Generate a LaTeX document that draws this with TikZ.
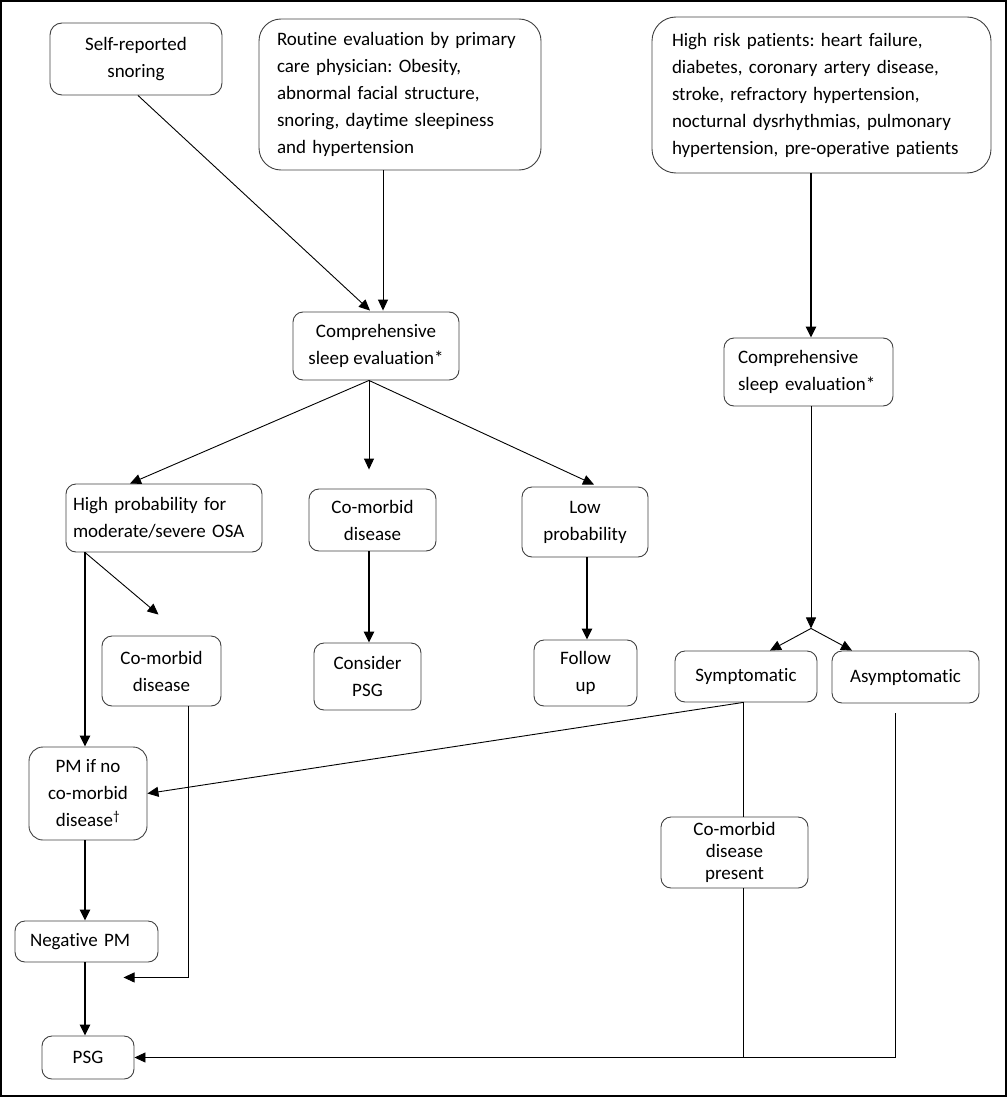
\documentclass[tikz,border=0pt]{standalone}
\usepackage{fontspec}
\setmainfont{Carlito}[Ligatures=NoCommon]
\usetikzlibrary{arrows.meta,calc}
\frenchspacing

\newcommand{\boxline}{0.9pt}
\newcommand{\tipshape}{Triangle[length=11pt,width=10pt]}

\begin{document}
\begin{tikzpicture}[
    x=1pt, y=-1pt,
    box font/.style={font={\fontsize{19}{27}\selectfont}},
    tight font/.style={font={\fontsize{19}{22}\selectfont}},
    flow box/.style={draw=black!75, line width=\boxline, rounded corners=10, box font, inner sep=0pt, align=center},
    flow line/.style={line width=0.9pt},
    flow arrow/.style={flow line, -{\tipshape}},
    strong arrow/.style={line width=2.4pt, -{\tipshape}}
]

\useasboundingbox (0,0) rectangle (1007,1097);
\draw[line width=1.6pt] (1,1) rectangle (1006,1096);

% ENTRY POINTS
\node[flow box, rounded corners=12, minimum width=172, minimum height=72] (snoring) at (136,59) {Self-reported\\snoring};
\node[flow box, rounded corners=22, align=left, text width=246, inner xsep=18, minimum height=151] (routine) at (400,94.5) {Routine evaluation by primary\\care physician: Obesity,\\abnormal facial structure,\\snoring, daytime sleepiness\\and hypertension};
\node[flow box, rounded corners=24, align=left, text width=299, inner xsep=20, minimum height=156] (highrisk) at (821.5,95) {High risk patients: heart failure,\\diabetes, coronary artery disease,\\stroke, refractory hypertension,\\nocturnal dysrhythmias, pulmonary\\hypertension, pre-operative patients};

% EVALUATIONS
\node[flow box, minimum width=166, minimum height=68] (evalmain) at (376,346) {Comprehensive\\sleep evaluation*};
\node[flow box, align=left, text width=141, inner xsep=14, minimum height=68] (evalrisk) at (808.5,372) {Comprehensive\\sleep evaluation*};

% OUTCOMES
\node[flow box, align=left, text width=182, inner xsep=7, minimum height=68] (highprob) at (164,518) {High probability for\\moderate/severe OSA};
\node[flow box, minimum width=127, minimum height=62] (comorbid) at (372.5,520) {Co-morbid\\disease};
\node[flow box, minimum width=126, minimum height=70] (lowprob) at (585,522) {Low\\probability};
\node[flow box, minimum width=119, minimum height=70] (comorbidhp) at (161.5,671) {Co-morbid\\disease};
\node[flow box, minimum width=107, minimum height=67] (considerpsg) at (367.5,676.5) {Consider\\PSG};
\node[flow box, minimum width=103, minimum height=66] (followup) at (585.5,673) {Follow\\up};
\node[flow box, minimum width=142, minimum height=51] (symptomatic) at (746,676.5) {Symptomatic};
\node[flow box, minimum width=147, minimum height=52] (asymptomatic) at (905.5,677) {Asymptomatic};

% TESTING
\node[flow box, rounded corners=14, minimum width=118, minimum height=93] (pm) at (88,793.5) {PM if no\\co-morbid\\disease\textsuperscript{†}};
\node[flow box, tight font, minimum width=147, minimum height=71] (present) at (734.5,852.5) {Co-morbid\\disease\\present};
\node[flow box, align=left, text width=113, inner xsep=15, minimum height=41] (negpm) at (86.5,941.5) {Negative PM};
\node[flow box, minimum width=92, minimum height=43] (psg) at (88,1057.5) {PSG};

% helper points
\coordinate (mainout) at ($(evalmain.south)+(-7,0)$);
\coordinate (hpout) at ($(highprob.south)+(-79,0)$);
\coordinate (riskout) at ($(evalrisk.south)+(2.5,0)$);
\coordinate (fork) at ($(riskout)+(0,222)$);
\coordinate (sympout) at ($(symptomatic.south)+(-3,0)$);

% CONNECTORS
\draw[flow arrow] ($(snoring.south)+(2,0)$) -- ($(evalmain.north)+(-6,-1)$);
\draw[flow arrow] ($(routine.south)+(-17,0)$) -- ($(evalmain.north)+(7,-1)$);
\draw[strong arrow] ($(highrisk.south)+(-10.5,0)$) -- ($(evalrisk.north)+(2.5,0)$);

\draw[flow arrow] (mainout) -- ($(highprob.north)+(-34,0)$);
\draw[flow arrow] (mainout) -- ($(comorbid.north)+(-3.5,-19)$);
\draw[flow arrow] (mainout) -- ($(lowprob.north)+(9,-2)$);

\draw[strong arrow] (hpout) -- (hpout |- pm.north);
\draw[flow arrow] (hpout) -- ($(comorbidhp.north)+(-3,-21)$);
\draw[strong arrow] ($(comorbid.south)+(-3.5,0)$) -- ($(considerpsg.north)+(1.5,0)$);
\draw[strong arrow] ($(lowprob.south)+(2,0)$) -- ($(followup.north)+(1.5,0)$);

\draw[flow arrow] (riskout) -- (fork);
\draw[flow arrow] (fork) -- ($(symptomatic.north)+(24,0)$);
\draw[flow arrow] (fork) -- ($(asymptomatic.north)+(-53.5,0)$);

\draw[flow arrow] (sympout) -- (pm.east);
\draw[flow line] (sympout) -- (sympout |- present.north);
\draw[flow arrow] (sympout |- present.south) -- (sympout |- psg.east) -- (psg.east);
\draw[flow line] ($(asymptomatic.south)+(-10.5,10)$) |- (sympout |- psg.east);

\draw[flow arrow] ($(comorbidhp.south)+(26.5,0)$) |- ($(negpm.south)+(37,15)$);
\draw[strong arrow] (hpout |- pm.south) -- (hpout |- negpm.north);
\draw[strong arrow] (hpout |- negpm.south) -- (hpout |- psg.north);

\end{tikzpicture}
\end{document}
